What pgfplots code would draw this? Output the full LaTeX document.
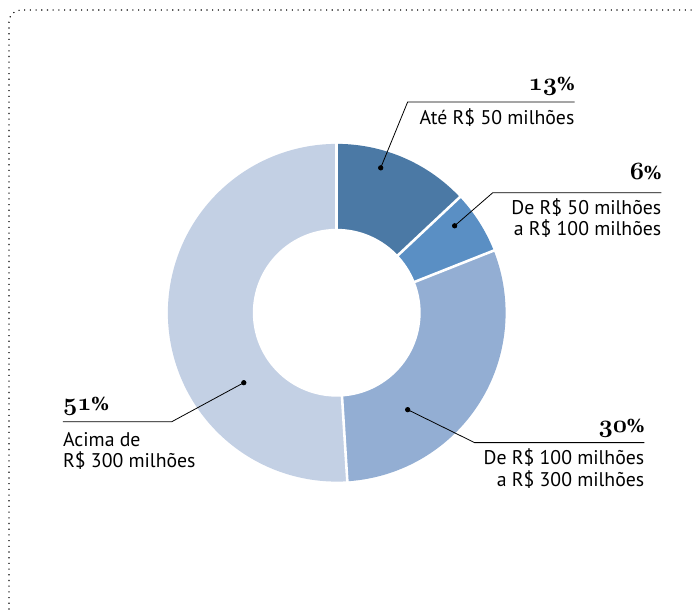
\documentclass[border=0pt]{standalone}
\usepackage{pgfplots}
\pgfplotsset{compat=1.18}
\usepackage{fontspec}
\newfontfamily\lab{PT Sans}
\newfontfamily\pcf{DejaVu Serif}
\definecolor{cA}{HTML}{4B79A5}
\definecolor{cB}{HTML}{5A8FC4}
\definecolor{cC}{HTML}{93AED3}
\definecolor{cD}{HTML}{C3D0E4}
\newcommand{\pct}[1]{{\fontsize{23}{23}\selectfont{\usefont{OML}{cmm}{b}{it}#1}{\pcf\bfseries\fontsize{18}{18}\selectfont\%}}}
\newcommand{\lbl}{\lab\fontsize{19.8}{21}\selectfont}
\begin{document}
\begin{tikzpicture}
% shares (percent)
\def\vA{13}\def\vB{6}\def\vC{30}\def\vD{51}
\pgfmathsetmacro\aA{90-3.6*\vA}
\pgfmathsetmacro\aB{\aA-3.6*\vB}
\pgfmathsetmacro\aC{\aB-3.6*\vC}
\pgfmathsetmacro\aD{\aC-3.6*\vD}
\def\cx{337}\def\cy{297}\def\ro{169}\def\ri{84}
\begin{axis}[width=696pt,height=610pt,scale only axis,
  xmin=0,xmax=696,ymin=0,ymax=610,hide axis,clip=false]
\path (axis cs:0,0) rectangle (axis cs:696,610);
% border
\draw[black,line width=1.1pt,dash pattern=on 1.1pt off 4.6pt,rounded corners=12pt]
  (axis cs:9,0) -- (axis cs:9,600) -- (axis cs:696,600);
% wedges
\addplot[fill=cA,draw=none,domain=\aA:90,samples=60] ({\cx+\ro*cos(x)},{\cy+\ro*sin(x)}) -- (axis cs:\cx,\cy) -- cycle;
\addplot[fill=cB,draw=none,domain=\aB:\aA,samples=40] ({\cx+\ro*cos(x)},{\cy+\ro*sin(x)}) -- (axis cs:\cx,\cy) -- cycle;
\addplot[fill=cC,draw=none,domain=\aC:\aB,samples=80] ({\cx+\ro*cos(x)},{\cy+\ro*sin(x)}) -- (axis cs:\cx,\cy) -- cycle;
\addplot[fill=cD,draw=none,domain=\aD:\aC,samples=120] ({\cx+\ro*cos(x)},{\cy+\ro*sin(x)}) -- (axis cs:\cx,\cy) -- cycle;
% hole
\addplot[fill=white,draw=none,domain=0:360,samples=120] ({\cx+\ri*cos(x)},{\cy+\ri*sin(x)}) -- cycle;
% separators
\foreach \a in {90,\aA,\aB,\aC}{
  \addplot[white,line width=2.6pt,domain=70:175,samples=2] ({\cx+x*cos(\a)},{\cy+x*sin(\a)});
}
% leader lines
\addplot[black,line width=0.8pt,mark=*,mark size=2.2pt,mark indices={1}] coordinates {(381,442) (408,508) (575,508)};
\addplot[black,line width=0.8pt,mark=*,mark size=2.2pt,mark indices={1}] coordinates {(455,384) (493,417) (662,417)};
\addplot[black,line width=0.8pt,mark=*,mark size=2.2pt,mark indices={1}] coordinates {(408,200) (475,167) (645,167)};
\addplot[black,line width=0.8pt,mark=*,mark size=2.2pt,mark indices={1}] coordinates {(244,227) (172,188) (63,188)};
% labels
\node[anchor=base east,inner sep=0pt] at (axis cs:575,519) {\pct{13}};
\node[anchor=base east,inner sep=0pt] at (axis cs:575,485) {\lbl Até R\$ 50 milhões};
\node[anchor=base east,inner sep=0pt] at (axis cs:662,430) {\pct{6}};
\node[anchor=base east,inner sep=0pt] at (axis cs:662,395) {\lbl De R\$ 50 milhões};
\node[anchor=base east,inner sep=0pt] at (axis cs:662,374) {\lbl a R\$ 100 milhões};
\node[anchor=base east,inner sep=0pt] at (axis cs:645,177) {\pct{30}};
\node[anchor=base east,inner sep=0pt] at (axis cs:645,145) {\lbl De R\$ 100 milhões};
\node[anchor=base east,inner sep=0pt] at (axis cs:645,123) {\lbl a R\$ 300 milhões};
\node[anchor=base west,inner sep=0pt] at (axis cs:63,199) {\pct{51}};
\node[anchor=base west,inner sep=0pt] at (axis cs:63,163) {\lbl Acima de};
\node[anchor=base west,inner sep=0pt] at (axis cs:63,142) {\lbl R\$ 300 milhões};
\end{axis}
\end{tikzpicture}
\end{document}
